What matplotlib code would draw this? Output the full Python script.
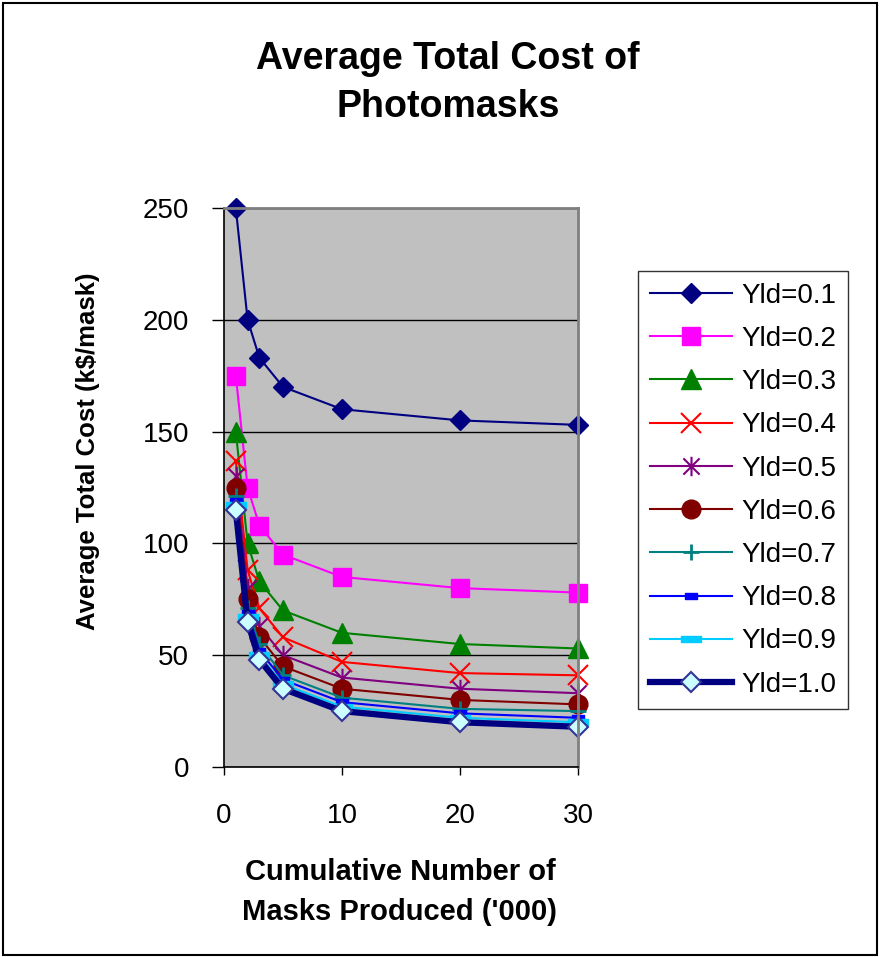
import numpy as np
import matplotlib
matplotlib.use("Agg")
import matplotlib.pyplot as plt
from matplotlib.path import Path
from matplotlib.patches import Rectangle

plt.rcParams['font.family'] = ['Liberation Sans', 'DejaVu Sans']

# cumulative number of masks produced ('000)
masks = [1, 2, 3, 5, 10, 20, 30]

# average total cost (k$/mask), one list per yield
yld_01 = [250, 200, 183, 170, 160, 155, 153]
yld_02 = [175, 125, 108, 95, 85, 80, 78]
yld_03 = [150, 100, 83, 70, 60, 55, 53]
yld_04 = [137, 88, 71, 58, 47, 42, 41]
yld_05 = [130, 80, 63, 50, 40, 35, 33]
yld_06 = [125, 75, 58, 45, 35, 30, 28]
yld_07 = [121, 71, 55, 41, 31, 26, 25]
yld_08 = [119, 69, 52, 39, 29, 24, 22]
yld_09 = [117, 67, 50, 37, 27, 22, 20]
yld_10 = [115, 65, 48, 35, 25, 20, 18]

labels = ["Yld=0.1", "Yld=0.2", "Yld=0.3", "Yld=0.4", "Yld=0.5",
          "Yld=0.6", "Yld=0.7", "Yld=0.8", "Yld=0.9", "Yld=1.0"]
series = [yld_01, yld_02, yld_03, yld_04, yld_05,
          yld_06, yld_07, yld_08, yld_09, yld_10]

# custom marker shapes
asterisk = Path([(-1, -1), (1, 1), (-1, 1), (1, -1), (0, -1.2), (0, 1.2)],
                [Path.MOVETO, Path.LINETO] * 3)
small_bar = Path([(-1, -0.5), (1, -0.5), (1, 0.5), (-1, 0.5), (-1, -0.5)], closed=True)
long_bar = Path([(-1, -0.33), (1, -0.33), (1, 0.33), (-1, 0.33), (-1, -0.33)], closed=True)

styles = [
    dict(color="#000080", marker="D", ms=10.5, mfc="#000080", mec="#000080", lw=1.5),
    dict(color="#FF00FF", marker="s", ms=13.5, mfc="#FF00FF", mec="#FF00FF", lw=1.5),
    dict(color="#008000", marker="^", ms=14, mfc="#008000", mec="#008000", lw=1.5),
    dict(color="#FF0000", marker="x", ms=14, mec="#FF0000", mew=1.5, lw=1.5),
    dict(color="#800080", marker=asterisk, ms=14, mec="#800080", mew=1.5, lw=1.5),
    dict(color="#800000", marker="o", ms=13.5, mfc="#800000", mec="#800000", lw=1.5),
    dict(color="#008080", marker="+", ms=11, mec="#008080", mew=2, lw=1.5),
    dict(color="#0000FF", marker=small_bar, ms=9, mfc="#0000FF", mec="#0000FF", lw=1.5),
    dict(color="#00CCFF", marker=long_bar, ms=14, mfc="#00CCFF", mec="#00CCFF", lw=1.5),
    dict(color="#000080", marker="D", ms=10, mfc="#CCFFFF", mec="#333399", mew=1.5, lw=4.5),
]

fig = plt.figure(figsize=(8.82, 9.57), dpi=100)
ax = fig.add_axes([224/882, 1-767/957, 354/882, 559/957])
ax.set_facecolor("#C0C0C0")

for vals, lab, st in zip(series, labels, styles):
    ax.plot(masks, vals, label=lab, **st, clip_on=False)

ax.set_xlim(0, 30)
ax.set_ylim(0, 250)
ax.set_xticks([0, 10, 20, 30])
ax.set_yticks([0, 50, 100, 150, 200, 250])
ax.yaxis.grid(True, color="black", lw=1)
ax.set_axisbelow(True)
ax.tick_params(axis="y", direction="out", length=9, width=1, labelsize=20, pad=16)
ax.tick_params(axis="x", direction="out", length=6, width=1, labelsize=20, pad=20)
for s in ["left", "bottom"]:
    ax.spines[s].set_color("black"); ax.spines[s].set_linewidth(1.2)
for s in ["top", "right"]:
    ax.spines[s].set_color("#808080"); ax.spines[s].set_linewidth(2)

fig.text(448/882, 1-83/957, "Average Total Cost of\nPhotomasks", ha="center", va="center",
         fontsize=27, fontweight="bold", linespacing=1.45)
fig.text(88/882, 1-451/957, "Average Total Cost (k$/mask)", rotation=90, ha="center",
         va="center", fontsize=18.5, fontweight="bold")
fig.text(400/882, 1-892/957, "Cumulative Number of\nMasks Produced ('000)", ha="center",
         va="center", fontsize=21, fontweight="bold", linespacing=1.5)

leg = fig.legend(loc="upper left", bbox_to_anchor=(638/882, 1-271/957), fontsize=20,
                 frameon=True, fancybox=False, edgecolor="black", handlelength=2.95,
                 handletextpad=0.36, labelspacing=0.62, borderpad=0.42, borderaxespad=0)
leg.get_frame().set_linewidth(1)

fig.patches.append(Rectangle((3/882, 2/957), 874/882, 952/957, transform=fig.transFigure,
                             fill=False, ec="black", lw=1.5))

fig.savefig("out.png", dpi=100, facecolor="white")
